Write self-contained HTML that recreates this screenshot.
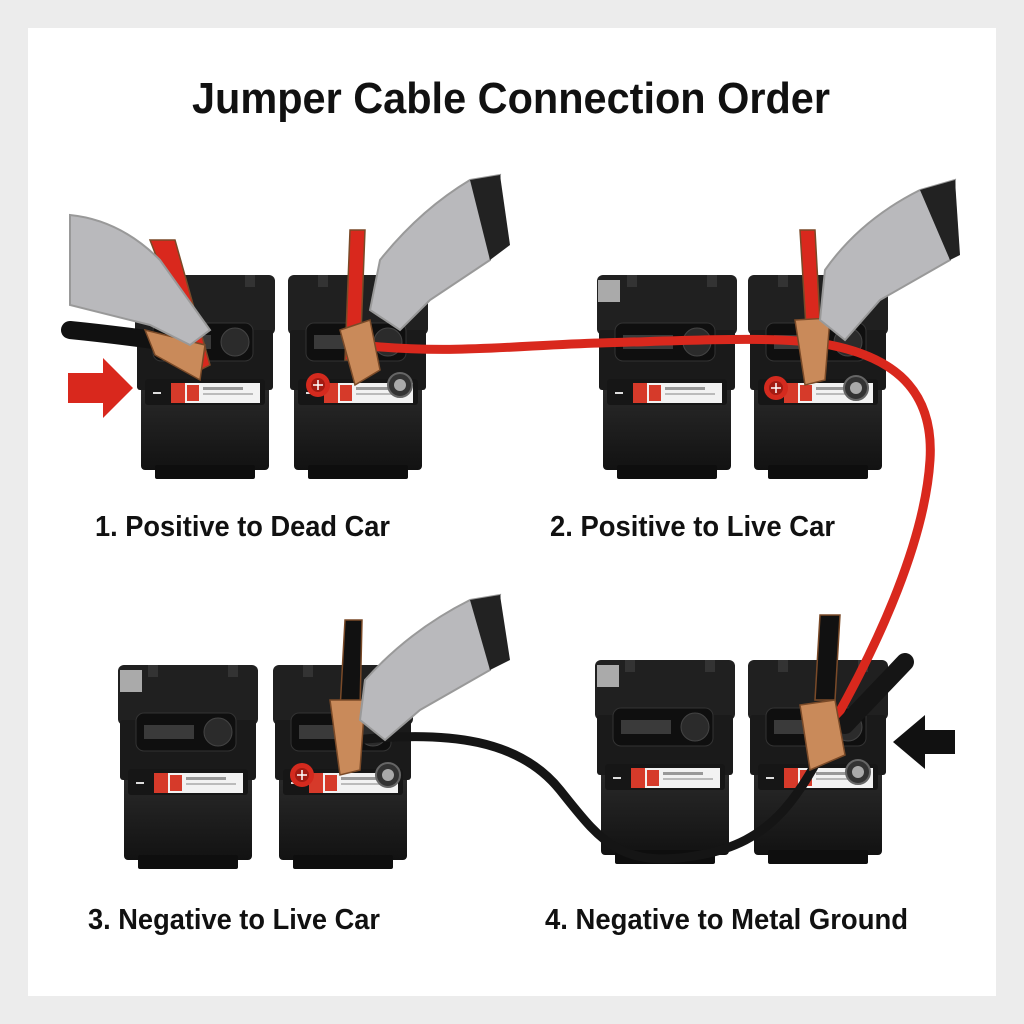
<!DOCTYPE html>
<html><head><meta charset="utf-8"><style>
html,body{margin:0;padding:0;background:#ececec;}
svg{display:block}
text{font-family:"Liberation Sans",sans-serif;font-weight:bold;fill:#111}
</style></head><body>
<svg width="1024" height="1024" viewBox="0 0 1024 1024" xmlns="http://www.w3.org/2000/svg">
<defs>
  <linearGradient id="bg" x1="0" x2="0" y1="0" y2="1">
    <stop offset="0" stop-color="#2a2a2a"/><stop offset="1" stop-color="#121212"/>
  </linearGradient>
  <g id="batt">
    <rect x="6" y="110" width="128" height="85" rx="4" fill="url(#bg)"/>
    <rect x="20" y="190" width="100" height="14" rx="2" fill="#0e0e0e"/>
    <rect x="0" y="0" width="140" height="60" rx="6" fill="#202020"/>
    <rect x="2" y="55" width="136" height="60" rx="3" fill="#1a1a1a"/>
    <rect x="10" y="104" width="120" height="26" rx="3" fill="#161616"/>
    <rect x="50" y="108" width="75" height="20" fill="#f2f2f2"/>
    <rect x="36" y="108" width="14" height="20" fill="#d63a2a"/>
    <rect x="52" y="110" width="12" height="16" fill="#d63a2a"/>
    <rect x="68" y="112" width="40" height="3" fill="#999"/>
    <rect x="68" y="118" width="50" height="2" fill="#bbb"/>
    <rect x="18" y="117" width="8" height="2" fill="#ddd"/>
    <rect x="18" y="48" width="100" height="38" rx="8" fill="#0f0f0f" stroke="#333"/>
    <circle cx="100" cy="67" r="14" fill="#2b2b2b" stroke="#444"/>
    <rect x="26" y="60" width="50" height="14" fill="#3a3a3a"/>
    <rect x="30" y="0" width="10" height="12" fill="#333"/>
    <rect x="110" y="0" width="10" height="12" fill="#333"/>
  </g>
  <g id="cap"><circle r="12" fill="#d42a1e"/><circle r="7" fill="#a31b12"/><path d="M-5 0h10M0 -5v10" stroke="#fff" stroke-width="1.5"/></g>
  <g id="negt"><circle r="12" fill="#333" stroke="#666" stroke-width="2"/><circle r="6" fill="#aaa"/></g>
</defs>
<rect width="1024" height="1024" fill="#ececec"/>
<rect x="28" y="28" width="968" height="968" fill="#fff"/>
<text x="192" y="113" font-size="44" textLength="638" lengthAdjust="spacingAndGlyphs">Jumper Cable Connection Order</text>

<use href="#batt" x="135" y="275"/>
<use href="#batt" x="288" y="275"/>
<use href="#cap" x="318" y="385"/><use href="#negt" x="400" y="385"/>
<path d="M70 330 Q120 335 190 345" stroke="#111" stroke-width="18" fill="none" stroke-linecap="round"/>
<path d="M68 373h35v-15l30 30-30 30v-15h-35z" fill="#d9281d"/>
<use href="#batt" x="597" y="275"/>
<use href="#batt" x="748" y="275"/>
<use href="#cap" x="776" y="388"/><use href="#negt" x="856" y="388"/>
<rect x="598" y="280" width="22" height="22" fill="#aaa"/>
<use href="#batt" x="118" y="665"/>
<use href="#batt" x="273" y="665"/>
<use href="#cap" x="302" y="775"/><use href="#negt" x="388" y="775"/>
<rect x="120" y="670" width="22" height="22" fill="#aaa"/>
<use href="#batt" x="595" y="660"/>
<use href="#batt" x="748" y="660"/>
<use href="#negt" x="858" y="772"/>
<rect x="597" y="665" width="22" height="22" fill="#aaa"/>
<path d="M955 730h-30v-15l-32 27 32 27v-15h30z" fill="#111"/>

<path d="M360 345 C450 355 520 345 600 343 S780 335 830 345 S935 380 930 460 S880 640 835 720" stroke="#d9281d" stroke-width="9" fill="none" stroke-linecap="round"/>
<path d="M355 740 C450 730 520 740 560 790 S620 870 700 855 S800 790 835 730" stroke="#151515" stroke-width="9" fill="none" stroke-linecap="round"/>
<path d="M845 725 L905 662" stroke="#151515" stroke-width="18" stroke-linecap="round"/>

<g fill="#c98a5a" stroke="#7a4a28" stroke-width="1.5">
<path d="M150 240 L200 370 L210 365 L175 240z" fill="#d9281d"/>
<path d="M145 330 L205 345 L200 380 L155 355z"/>
<path d="M350 230 L345 360 L360 360 L365 230z" fill="#d9281d"/>
<path d="M340 330 L370 320 L380 370 L355 385z"/>
<path d="M800 230 L808 360 L822 358 L815 230z" fill="#d9281d"/>
<path d="M795 320 L830 318 L825 380 L805 385z"/>
<path d="M345 620 L340 710 L360 710 L362 620z" fill="#111"/>
<path d="M330 700 L365 700 L360 770 L340 775z"/>
<path d="M820 615 L815 700 L835 700 L840 615z" fill="#111"/>
<path d="M800 705 L835 700 L845 755 L810 770z"/>
</g>

<g fill="#b9b9bc" stroke="#999" stroke-width="2">
<path d="M70 215 Q120 220 160 260 L210 330 L190 345 L150 325 Q110 315 70 305z"/>
<path d="M500 175 L470 180 Q420 210 380 260 L370 310 L400 330 L430 300 L490 260z"/>
<path d="M955 180 L920 190 Q860 220 825 270 L820 320 L845 340 L880 300 L950 260z"/>
<path d="M500 595 L470 600 Q410 630 365 680 L360 720 L385 740 L420 710 L490 670z"/>
</g>
<g fill="#222"><path d="M470 180 L500 175 L510 245 L490 260z"/><path d="M920 190 L955 180 L960 255 L950 260z"/><path d="M470 600 L500 595 L510 660 L490 670z"/></g>

<text x="95" y="536" font-size="29" textLength="295" lengthAdjust="spacingAndGlyphs">1. Positive to Dead Car</text>
<text x="550" y="536" font-size="29" textLength="285" lengthAdjust="spacingAndGlyphs">2. Positive to Live Car</text>
<text x="88" y="929" font-size="29" textLength="292" lengthAdjust="spacingAndGlyphs">3. Negative to Live Car</text>
<text x="545" y="929" font-size="29" textLength="363" lengthAdjust="spacingAndGlyphs">4. Negative to Metal Ground</text>
</svg>
</body></html>
